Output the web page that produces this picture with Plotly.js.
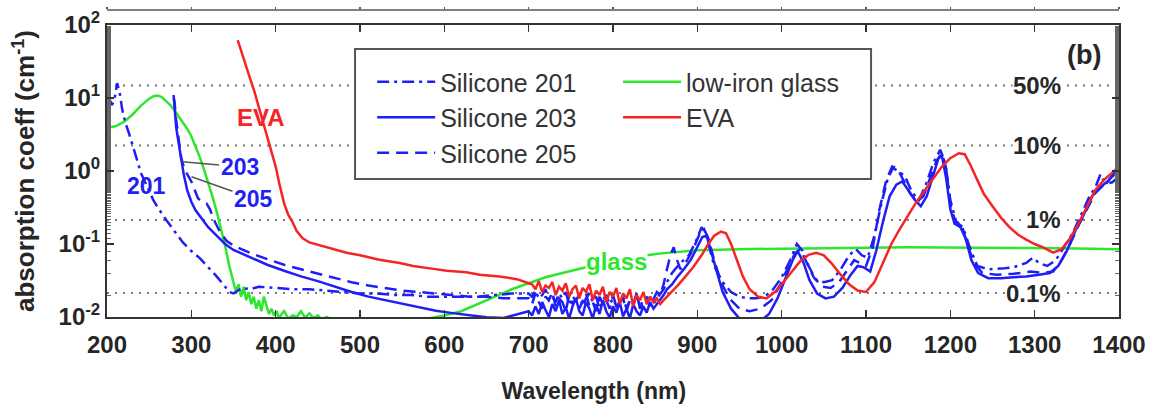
<!DOCTYPE html>
<html><head><meta charset="utf-8">
<script src="https://cdn.plot.ly/plotly-3.0.1.min.js"></script>
<style>html,body{margin:0;padding:0;background:#fff}#chart{width:1162px;height:414px}</style>
</head><body><div id="chart"></div>
<script>
// ---- data (wavelength nm, absorption coefficient cm^-1) ----
const glassX = [200,210,220,230,240,250,255,260,265,270,275,280,285,290,295,300,305,310,315,320,325,330,335,340,345,350,353,356,359,362,365,368,371,374,377,380,383,386,389,392,395,398,401,404,407,410,415,420,425,430,435,440,445,450,455,460,465,470,480,500,550,580,600,620,640,660,680,700,720,740,760,780,800,820,840,860,880,900,950,1000,1050,1100,1150,1200,1250,1300,1350,1400];
const glassY = [3.9,4.1,4.7,5.9,7.8,9.8,10.6,10.8,10.3,9.2,8.0,6.8,5.6,4.6,3.8,3.0,2.2,1.55,1.05,0.7,0.45,0.28,0.17,0.095,0.05,0.03,0.022,0.028,0.019,0.026,0.017,0.022,0.015,0.019,0.013,0.017,0.012,0.019,0.014,0.011,0.013,0.0105,0.012,0.0095,0.011,0.012,0.0095,0.0105,0.01,0.012,0.0098,0.0112,0.0096,0.0105,0.0092,0.01,0.0095,0.0093,0.009,0.0085,0.0088,0.0095,0.0105,0.012,0.015,0.019,0.024,0.029,0.035,0.040,0.046,0.052,0.058,0.064,0.070,0.075,0.079,0.082,0.085,0.087,0.088,0.089,0.09,0.09,0.089,0.088,0.087,0.085];

// wavelengths of the noisy 700-864 nm stretch
const fineX = [700,704,708,712,716,720,724,728,732,736,740,744,748,752,756,760,764,768,772,776,780,784,788,792,796,800,804,808,812,816,820,824,828,832,836,840,844,848,852,856,860,864];

const s201HeadX = [200,203,206,209,212,215,218,222,226,230,235,240,245,250,255,260,265,270,280,290,300,310,320,330,340,345,350,360,370,380,400,420,440,460,480,500,520,540,560,580,600,620,640,660,680];
const s201HeadY = [10,9.6,8.0,9.8,16,12,7,4.5,3.3,2.4,1.5,0.95,0.72,0.52,0.4,0.32,0.26,0.215,0.15,0.105,0.08,0.064,0.048,0.036,0.026,0.022,0.021,0.025,0.024,0.026,0.025,0.024,0.024,0.023,0.022,0.021,0.021,0.02,0.02,0.019,0.019,0.019,0.019,0.02,0.021];
const s201FineY = [0.021,0.019,0.023,0.018,0.02,0.024,0.017,0.019,0.016,0.021,0.018,0.022,0.015,0.019,0.017,0.02,0.014,0.018,0.021,0.016,0.019,0.013,0.017,0.02,0.015,0.018,0.014,0.016,0.019,0.013,0.017,0.015,0.02,0.014,0.017,0.016,0.019,0.015,0.018,0.021,0.024,0.03];
const s201TailX = [870,880,890,900,905,910,915,920,930,940,950,960,970,980,990,1000,1010,1018,1025,1032,1040,1050,1060,1070,1080,1088,1095,1102,1110,1118,1126,1132,1138,1146,1155,1163,1172,1180,1188,1194,1200,1207,1215,1223,1232,1245,1260,1275,1290,1298,1305,1315,1325,1335,1345,1355,1365,1372,1378,1384,1390,1400];
const s201TailY = [0.04,0.055,0.07,0.12,0.17,0.14,0.08,0.05,0.03,0.022,0.019,0.018,0.018,0.019,0.024,0.035,0.06,0.1,0.08,0.05,0.033,0.03,0.032,0.045,0.07,0.085,0.07,0.065,0.13,0.35,0.8,1.1,1.0,0.85,0.5,0.4,0.7,1.3,1.95,1.3,0.4,0.2,0.17,0.09,0.05,0.045,0.046,0.048,0.055,0.065,0.055,0.05,0.06,0.09,0.14,0.25,0.45,0.6,0.9,0.65,0.8,1.0];

const s203HeadX = [279,280,282,285,288,291,295,300,305,310,320,330,340,350,370,390,410,430,450,470,490,510,530,550,570,590,610,630,650,670,690];
const s203HeadY = [11,8,4,2.4,1.4,0.9,0.55,0.38,0.29,0.24,0.17,0.13,0.1,0.083,0.065,0.052,0.043,0.036,0.031,0.026,0.022,0.019,0.017,0.015,0.0135,0.0122,0.0113,0.0105,0.0099,0.0097,0.011];
const s203FineY = [0.012,0.0105,0.014,0.011,0.016,0.0125,0.01,0.015,0.012,0.017,0.011,0.0135,0.0095,0.014,0.018,0.012,0.0105,0.016,0.013,0.0095,0.015,0.011,0.017,0.012,0.0098,0.014,0.0115,0.016,0.0102,0.013,0.0095,0.015,0.012,0.0105,0.014,0.0115,0.016,0.013,0.015,0.018,0.02,0.024];
const s203TailX = [870,876,884,892,900,906,911,916,922,930,940,950,960,975,985,995,1005,1013,1019,1026,1033,1042,1052,1062,1072,1082,1090,1097,1105,1112,1120,1128,1136,1143,1150,1158,1165,1172,1180,1186,1190,1195,1200,1205,1212,1218,1225,1233,1245,1260,1275,1290,1305,1318,1328,1338,1348,1358,1368,1378,1388,1400];
const s203TailY = [0.028,0.035,0.045,0.06,0.09,0.125,0.13,0.08,0.045,0.022,0.013,0.0095,0.0088,0.0088,0.011,0.018,0.035,0.06,0.08,0.055,0.032,0.021,0.018,0.019,0.025,0.038,0.05,0.048,0.042,0.08,0.2,0.45,0.65,0.72,0.55,0.4,0.33,0.45,0.9,1.5,1.6,0.8,0.3,0.19,0.17,0.12,0.06,0.04,0.034,0.034,0.035,0.036,0.038,0.04,0.05,0.08,0.15,0.25,0.45,0.6,0.75,1.15];

const s205HeadX = [279,280,282,285,288,292,296,300,304,308,313,318,322,328,335,342,350,370,390,410,430,450,470,490,510,530,550,570,590,610,630,650,670,690];
const s205HeadY = [10,9,5,2.6,1.5,1.05,0.85,0.72,0.55,0.42,0.38,0.36,0.3,0.2,0.14,0.11,0.095,0.075,0.062,0.052,0.045,0.039,0.034,0.03,0.027,0.025,0.023,0.022,0.021,0.02,0.019,0.019,0.018,0.018];
const s205FineY = [0.018,0.015,0.021,0.016,0.013,0.019,0.017,0.022,0.014,0.018,0.016,0.012,0.02,0.015,0.018,0.013,0.017,0.021,0.014,0.016,0.012,0.019,0.015,0.017,0.013,0.02,0.014,0.016,0.018,0.012,0.017,0.015,0.021,0.013,0.016,0.019,0.014,0.018,0.022,0.02,0.028,0.045];
const s205TailX = [868,872,876,880,888,896,903,908,913,920,928,938,950,962,975,988,1000,1008,1016,1022,1030,1038,1048,1058,1068,1078,1086,1093,1100,1108,1116,1124,1131,1137,1144,1152,1160,1168,1176,1184,1190,1195,1200,1206,1213,1220,1228,1238,1255,1275,1295,1310,1322,1332,1342,1352,1362,1372,1382,1392,1400];
const s205TailY = [0.07,0.09,0.06,0.045,0.06,0.09,0.14,0.16,0.12,0.06,0.03,0.018,0.013,0.012,0.013,0.017,0.03,0.05,0.075,0.085,0.055,0.035,0.026,0.025,0.03,0.045,0.06,0.055,0.05,0.09,0.3,0.75,1.15,1.1,0.75,0.5,0.38,0.45,0.8,1.4,1.75,1.1,0.35,0.2,0.19,0.1,0.055,0.04,0.038,0.039,0.042,0.04,0.042,0.06,0.1,0.18,0.3,0.5,0.65,0.7,0.85];

const evaHeadX = [355,360,365,370,375,380,385,390,395,400,405,410,415,420,425,432,440,450,460,470,484,500,523,547,563,585,603,626,642,665,686,700];
const evaHeadY = [62,42,28,18,12,7.5,4.8,3.1,1.9,1.15,0.62,0.36,0.25,0.2,0.15,0.12,0.105,0.098,0.09,0.085,0.076,0.07,0.061,0.055,0.05,0.046,0.043,0.041,0.038,0.036,0.033,0.029];
const evaFineY = [0.028,0.024,0.031,0.022,0.027,0.025,0.03,0.02,0.026,0.023,0.029,0.019,0.024,0.027,0.018,0.025,0.022,0.028,0.017,0.023,0.02,0.026,0.016,0.022,0.019,0.025,0.015,0.021,0.018,0.024,0.014,0.02,0.017,0.022,0.015,0.019,0.016,0.018,0.015,0.017];
const evaTailX = [866,872,878,886,895,905,913,920,928,934,940,947,954,962,972,982,992,1002,1012,1022,1032,1041,1050,1060,1070,1080,1090,1100,1110,1120,1130,1140,1150,1160,1170,1180,1190,1200,1210,1217,1224,1232,1240,1250,1260,1270,1280,1290,1300,1310,1322,1332,1342,1352,1362,1372,1382,1392,1400];
const evaTailY = [0.02,0.024,0.028,0.036,0.048,0.07,0.1,0.13,0.148,0.14,0.1,0.06,0.036,0.024,0.019,0.018,0.022,0.03,0.042,0.058,0.071,0.076,0.07,0.053,0.038,0.028,0.023,0.022,0.03,0.055,0.1,0.16,0.25,0.38,0.55,0.8,1.15,1.5,1.75,1.7,1.2,0.75,0.48,0.33,0.23,0.17,0.135,0.115,0.1,0.09,0.076,0.085,0.12,0.19,0.32,0.55,0.75,0.95,1.15];

// absorption levels (for the sample thickness) marked by dotted lines
const levelPct = ['0.1%','1%','10%','50%'];
const levelAlpha = [0.0213, 0.214, 2.24, 14.8];

const yTickVals = [0.01, 0.1, 1, 10, 100];
const yTickText = ['10<sup>-2</sup>','10<sup>-1</sup>','10<sup>0</sup>','10<sup>1</sup>','10<sup>2</sup>'];

const BLUE = '#1f1ff5', GREEN = '#2ee62e', RED = '#f52525';
const TXT = '#262626';
const FONT = 'Liberation Sans, Arial, Helvetica, sans-serif';

const s201X = s201HeadX.concat(fineX, s201TailX), s201Y = s201HeadY.concat(s201FineY, s201TailY);
const s203X = s203HeadX.concat(fineX, s203TailX), s203Y = s203HeadY.concat(s203FineY, s203TailY);
const s205X = s205HeadX.concat(fineX, s205TailX), s205Y = s205HeadY.concat(s205FineY, s205TailY);
const evaX = evaHeadX.concat(fineX.slice(1, 41), evaTailX), evaY = evaHeadY.concat(evaFineY, evaTailY);

const traces = [];
levelAlpha.forEach(v => traces.push({x:[200,1400], y:[v,v], mode:'lines', showlegend:false, hoverinfo:'skip',
  line:{color:'#7a7a7a', width:2, dash:'2px,6px'}}));
traces.push({name:'low-iron glass', x:glassX, y:glassY, mode:'lines', line:{color:GREEN, width:2.5}, legend:'legend2', legendrank:1});
traces.push({name:'Silicone 201', x:s201X, y:s201Y, mode:'lines', line:{color:BLUE, width:2.5, dash:'12px,5px,3px,5px'}, legend:'legend', legendrank:1});
traces.push({name:'Silicone 203', x:s203X, y:s203Y, mode:'lines', line:{color:BLUE, width:2.5}, legend:'legend', legendrank:2});
traces.push({name:'Silicone 205', x:s205X, y:s205Y, mode:'lines', line:{color:BLUE, width:2.5, dash:'12px,7px'}, legend:'legend', legendrank:3});
traces.push({name:'EVA', x:evaX, y:evaY, xaxis:'x2', mode:'lines', line:{color:RED, width:2.5}, legend:'legend2', legendrank:2});

const annotations = levelPct.map((p,i) => ({x:1332, y:Math.log10(levelAlpha[i]), xref:'x', yref:'y', text:p, showarrow:false,
  xanchor:'right', yanchor:'middle', bgcolor:'#fff', borderpad:0, font:{family:FONT, size:24, color:TXT, weight:700}}));
annotations.push(
  {x:1359, y:1.59, text:'(b)', showarrow:false, font:{family:FONT, size:27, color:TXT, weight:700}},
  {x:383, y:0.728, text:'EVA', showarrow:false, font:{family:FONT, size:24, color:RED, weight:700}},
  {x:247, y:-0.2025, text:'201', showarrow:false, font:{family:FONT, size:23, color:BLUE, weight:700}},
  {x:289.6, y:0.126, ax:57, ay:5, text:'203', showarrow:true, arrowhead:0, arrowwidth:1.5, arrowcolor:'#555', standoff:0,
    font:{family:FONT, size:23, color:BLUE, weight:700}},
  {x:300.2, y:-0.079, ax:62, ay:22, text:'205', showarrow:true, arrowhead:0, arrowwidth:1.5, arrowcolor:'#555', standoff:0,
    font:{family:FONT, size:23, color:BLUE, weight:700}},
  {x:804, y:-1.242, text:'glass', showarrow:false, bgcolor:'#fff', borderpad:0, font:{family:FONT, size:24, color:GREEN, weight:700}}
);

const layout = {
  width:1162, height:414,
  margin:{l:107, r:43, t:10, b:97},
  paper_bgcolor:'#fff', plot_bgcolor:'#fff',
  font:{family:FONT, color:TXT},
  showlegend:true,
  xaxis:{range:[200,1400], tick0:200, dtick:100, showgrid:false, zeroline:false,
    showline:true, linecolor:'#333', linewidth:2, mirror:'ticks',
    ticks:'inside', ticklen:7, tickwidth:1.5, tickcolor:'#333', ticklabelstandoff:5,
    tickfont:{family:FONT, size:24, color:TXT, weight:700},
    title:{text:'Wavelength (nm)&nbsp;&nbsp;&nbsp;&nbsp;&nbsp;&nbsp;', standoff:26, font:{family:FONT, size:23, color:TXT, weight:700}}},
  xaxis2:{overlaying:'x', anchor:'free', position:1, side:'top', range:[200,1400], tick0:200, dtick:100,
    showgrid:false, zeroline:false, showline:true, linecolor:'#808080', linewidth:2,
    ticks:'outside', ticklen:2, tickwidth:1.5, tickcolor:'#555', showticklabels:false},
  yaxis:{type:'log', range:[-2,2], domain:[0,0.9511], showgrid:false, zeroline:false,
    showline:true, linecolor:'#333', linewidth:2, mirror:'ticks',
    tickvals:yTickVals, ticktext:yTickText, ticks:'inside', ticklen:7, tickwidth:1.5, tickcolor:'#333',
    minor:{ticks:'inside', ticklen:4, tickwidth:1, tickcolor:'#666', showgrid:false},
    tickfont:{family:FONT, size:24, color:TXT, weight:700},
    title:{text:'absorption coeff (cm<sup>-1</sup>)', standoff:16, font:{family:FONT, size:26, color:TXT, weight:700}}},
  legend:{x:0.262, y:0.840, xanchor:'left', yanchor:'top', bgcolor:'rgba(0,0,0,0)', borderwidth:0,
    itemwidth:58, font:{family:FONT, size:25, color:'#333'}, tracegroupgap:0},
  legend2:{x:0.505, y:0.840, xanchor:'left', yanchor:'top', bgcolor:'rgba(0,0,0,0)', borderwidth:0,
    itemwidth:58, font:{family:FONT, size:25, color:'#333'}, tracegroupgap:0},
  shapes:[{type:'rect', xref:'paper', yref:'paper', x0:0.2451, x1:0.755, y0:0.4495, y1:0.873,
    fillcolor:'#fff', line:{color:'#555', width:2}, layer:'above'}],
  annotations:annotations
};

Plotly.newPlot('chart', traces, layout, {displayModeBar:false, staticPlot:true});
</script>
</body></html>
